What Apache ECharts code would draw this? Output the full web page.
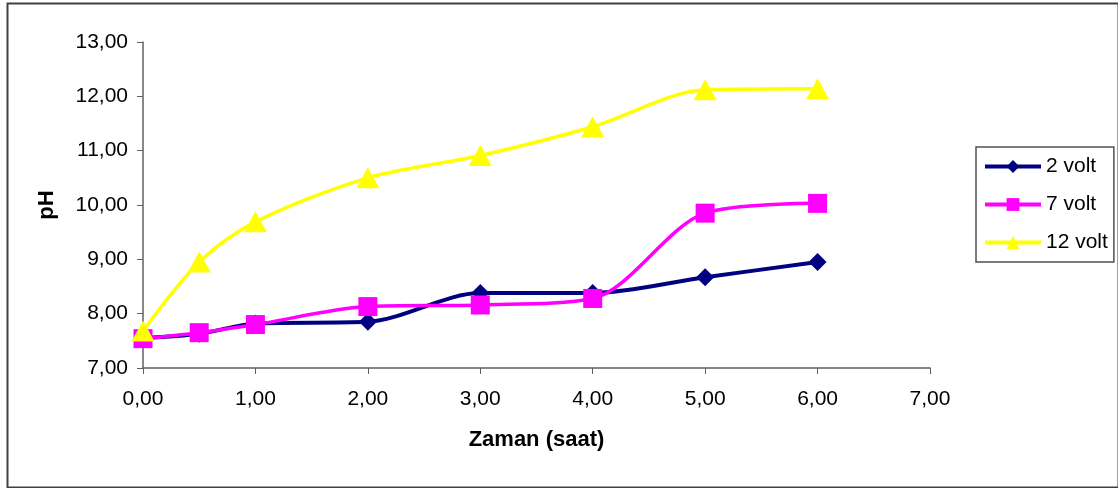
<!DOCTYPE html>
<html>
<head>
<meta charset="utf-8">
<script src="https://cdn.jsdelivr.net/npm/echarts@6/dist/echarts.min.js"></script>
<style>
html,body{margin:0;padding:0;background:#fff;}
#chart{width:1118px;height:488px;}
</style>
</head>
<body>
<div id="chart"></div>
<script>
const hours = [0, 0.5, 1, 2, 3, 4, 5, 6];
const volt2 = [7.55, 7.63, 7.82, 7.85, 8.38, 8.38, 8.67, 8.95];
const volt7 = [7.54, 7.65, 7.80, 8.13, 8.16, 8.28, 9.85, 10.03];
const volt12 = [7.68, 8.95, 9.69, 10.50, 10.91, 11.44, 12.12, 12.14];
const seriesNames = ['2 volt', '7 volt', '12 volt'];
const xAxisName = 'Zaman (saat)';
const yAxisName = 'pH';

const fmt = v => v.toFixed(2).replace('.', ',');
const pairs = arr => hours.map((h, i) => [h, arr[i]]);
const FONT = '"Liberation Sans", Arial, sans-serif';
const AXIS_COLOR = '#606060';

const chart = echarts.init(document.getElementById('chart'), null, {renderer: 'canvas'});
chart.setOption({
  backgroundColor: '#ffffff',
  animation: false,
  textStyle: {fontFamily: FONT},
  graphic: [{
    type: 'rect', left: 5, top: 1, z: -1,
    shape: {width: 1111, height: 484},
    style: {fill: 'none', stroke: '#404040', lineWidth: 2}
  }],
  grid: {left: 143, right: 188, top: 42, bottom: 120, containLabel: false},
  legend: {
    orient: 'vertical', left: 976, top: 147,
    padding: [9, 6, 9, 7],
    itemWidth: 56, itemHeight: 16, itemGap: 17,
    backgroundColor: '#fff', borderColor: '#505050', borderWidth: 1.5,
    lineStyle: {width: 4},
    textStyle: {fontFamily: FONT, fontSize: 21, color: '#000', lineHeight: 21},
    data: seriesNames
  },
  xAxis: {
    type: 'value', min: 0, max: 7, interval: 1,
    name: xAxisName, nameLocation: 'middle', nameGap: 61,
    nameTextStyle: {fontFamily: FONT, fontSize: 22, fontWeight: 'bold', color: '#000'},
    axisLine: {show: true, lineStyle: {color: AXIS_COLOR, width: 1.5}},
    axisTick: {show: true, length: 6, lineStyle: {color: AXIS_COLOR}},
    axisLabel: {formatter: fmt, color: '#000', fontSize: 21, fontFamily: FONT, margin: 21},
    splitLine: {show: false}
  },
  yAxis: {
    type: 'value', min: 7, max: 13, interval: 1,
    name: yAxisName, nameLocation: 'middle', nameGap: 85, nameRotate: 90,
    nameTextStyle: {fontFamily: FONT, fontSize: 22, fontWeight: 'bold', color: '#000'},
    axisLine: {show: true, lineStyle: {color: AXIS_COLOR, width: 1.5}},
    axisTick: {show: true, length: 6, lineStyle: {color: AXIS_COLOR}},
    axisLabel: {formatter: fmt, color: '#000', fontSize: 21, fontFamily: FONT, margin: 15},
    splitLine: {show: false}
  },
  series: [
    {
      name: seriesNames[0], type: 'line', data: pairs(volt2), smooth: 0.3,
      symbol: 'diamond', symbolSize: 18,
      lineStyle: {color: '#000080', width: 4},
      itemStyle: {color: '#000080'}
    },
    {
      name: seriesNames[1], type: 'line', data: pairs(volt7), smooth: 0.3,
      symbol: 'rect', symbolSize: 19,
      lineStyle: {color: '#ff00ff', width: 3.5},
      itemStyle: {color: '#ff00ff'}
    },
    {
      name: seriesNames[2], type: 'line', data: pairs(volt12), smooth: 0.3,
      symbol: 'triangle', symbolSize: [23, 21],
      lineStyle: {color: '#ffff00', width: 3.5},
      itemStyle: {color: '#ffff00'}
    }
  ]
});
</script>
</body>
</html>
